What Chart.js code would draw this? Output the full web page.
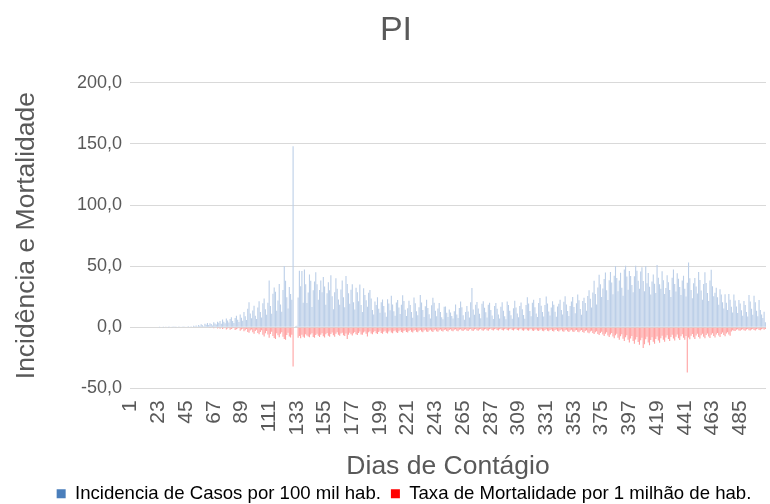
<!DOCTYPE html>
<html>
<head>
<meta charset="utf-8">
<script src="https://cdn.jsdelivr.net/npm/chart.js@4/dist/chart.umd.min.js"></script>
<style>
  html, body { margin: 0; padding: 0; background: #ffffff; }
  #wrap { width: 770px; height: 504px; }
</style>
</head>
<body>
<div id="wrap"><canvas id="c" width="770" height="504"></canvas></div>
<script>
// Incidência de casos por 100 mil hab. (days 1..505)
const incidencia = [
  0,0,0,0,0,0,0,0,0,0,
  0,0,0,0,0,0,0,0,0,0,
  0,0,0,0.1,0,0,0.1,0,0.2,0,
  0.1,0.2,0,0.1,0.3,0.2,0.1,0.4,0.2,0.3,
  0.5,0.3,0.2,0.6,0.4,0.3,0.8,0.5,0.9,0.4,
  1.2,0.8,1.5,0.6,1.8,1.1,2.4,1.6,0.9,2.8,
  2.1,3.5,1.8,3.2,2.6,1.4,4.1,3.0,2.2,4.6,
  3.8,5.2,2.9,6.4,4.5,3.3,7.1,5.6,4.0,6.8,
  8.2,5.1,3.6,7.5,9.4,6.2,4.4,10.5,7.8,5.3,
  12.6,9.1,6.0,15.2,20.4,11.3,7.4,13.8,17.6,9.5,
  6.8,16.2,21.3,12.4,8.1,19.6,23.5,14.8,10.2,20.1,
  38.2,17.5,11.0,27.4,32.6,29.1,13.6,22.0,35.4,18.7,
  12.8,30.5,50.2,38.1,24.6,15.3,33.0,27.2,22.5,148.0,
  0.5,0.8,1.2,24.3,46.2,33.5,46.0,20.1,47.3,35.2,
  19.8,28.4,43.1,38.0,16.5,30.2,37.5,45.0,35.1,22.6,
  30.4,38.2,28.7,41.2,33.4,18.4,27.9,36.8,30.2,42.5,
  25.3,14.8,28.6,40.1,31.5,22.7,18.5,31.0,38.2,24.5,
  16.3,42.0,35.4,27.8,19.2,30.6,35.1,20.5,14.6,32.4,
  28.6,21.3,35.0,18.2,12.5,32.0,26.4,22.1,16.8,28.2,
  30.4,23.6,14.2,10.5,21.0,18.3,24.5,15.2,11.8,20.5,
  22.8,17.4,12.1,8.6,23.0,19.5,14.0,25.8,18.6,13.2,
  9.5,20.2,22.4,16.1,10.8,18.5,26.2,21.4,14.3,9.2,
  15.6,21.8,18.2,12.5,7.8,24.3,19.6,13.1,9.8,16.4,
  26.5,20.3,14.2,8.5,17.2,22.6,15.8,10.6,7.2,18.0,
  24.1,20.0,13.5,9.1,15.4,19.8,12.6,8.2,6.5,16.7,
  17.1,11.8,8.4,14.5,12.0,9.3,7.1,13.2,18.6,10.4,
  7.5,15.8,21.0,16.3,9.8,6.2,12.4,17.5,13.0,8.1,
  20.5,32.1,14.6,10.2,18.4,20.6,15.3,11.0,7.4,19.2,
  21.3,16.0,12.2,8.0,18.5,20.1,14.1,9.6,6.8,17.4,
  19.8,15.2,10.5,7.2,16.8,20.4,13.6,9.1,6.5,21.0,
  18.2,13.5,9.8,7.0,15.6,21.8,16.2,11.3,8.2,17.5,
  20.3,14.8,10.1,6.9,18.2,24.6,19.5,13.4,9.0,20.1,
  22.5,16.3,11.2,8.4,19.8,24.0,17.6,12.5,8.8,18.2,
  25.1,19.4,13.0,9.6,16.2,21.3,18.5,12.8,8.7,17.1,
  19.2,22.6,14.1,10.5,20.8,25.3,18.7,13.4,9.2,17.5,
  21.0,24.8,16.5,11.4,19.6,26.8,22.1,15.0,10.2,21.5,
  24.2,19.8,13.5,25.6,30.3,23.4,16.2,28.5,38.1,27.2,
  18.6,32.5,43.0,35.2,24.8,31.8,39.4,44.8,30.2,22.4,
  38.5,45.2,36.6,27.1,42.1,50.1,40.3,29.5,38.2,44.6,
  32.4,25.8,47.2,50.3,41.5,30.8,46.1,42.0,34.5,28.6,
  41.8,50.4,46.2,38.0,31.5,45.6,49.2,37.8,29.4,50.2,
  36.1,44.5,33.2,26.8,37.4,43.2,35.6,28.1,51.0,40.5,
  35.3,31.6,45.8,38.4,27.3,32.2,42.5,36.9,30.4,24.8,
  40.6,47.3,35.5,29.2,44.1,39.6,33.0,26.5,38.2,42.1,
  31.5,25.2,36.4,53.0,40.2,30.5,23.8,36.1,40.3,33.4,
  27.6,45.2,38.7,30.1,22.5,35.4,45.0,36.2,28.0,21.6,
  38.2,47.1,33.5,25.3,28.2,32.4,24.6,18.5,31.1,26.8,
  20.4,15.3,27.0,20.1,14.2,27.2,22.5,16.8,12.1,26.8,
  22.0,17.1,11.6,22.3,19.5,14.0,9.5,21.6,18.2,12.4,
  8.8,26.5,21.0,15.2,10.3,25.8,20.4,13.5,9.1,22.4,
  14.2,10.5,7.6,12.8,4.1
];

// Taxa de mortalidade por 1 milhão de hab. (plotted as negative, days 1..505)
const mortalidade = [
  0,0,0,0,0,0,0,0,0,0,
  0,0,0,0,0,0,0,0,0,0,
  0,0,0,0,0,0,0,0,0,0,
  0,0,0,0,0,0,0,0,0,0,
  0,0,0,0,0,0,0,0,0,0,
  0,0,0,0,0,0,0,0,0,0,
  0,-0.3,0,-0.5,0,0,-0.8,-0.4,0,-1.0,
  -0.6,-1.2,0,-1.5,-0.8,-0.4,-1.8,-1.1,-0.5,-2.0,
  -1.4,-0.8,-0.5,-2.2,-1.6,-1.0,-0.6,-2.8,-1.9,-1.2,
  -3.2,-2.4,-1.5,-3.8,-4.5,-2.6,-1.8,-4.1,-5.2,-3.0,
  -2.0,-4.6,-5.8,-3.9,-2.5,-6.2,-7.5,-4.8,-3.1,-6.0,
  -8.5,-5.4,-3.6,-7.2,-8.8,-9.5,-4.9,-6.5,-8.1,-5.2,
  -4.0,-7.8,-9.6,-10.2,-6.4,-4.5,-7.6,-8.4,-6.1,-32.0,
  0,0,0,-8.6,-7.2,-9.0,-6.1,-7.8,-8.5,-5.6,
  -6.8,-7.5,-8.2,-5.9,-4.8,-7.9,-8.6,-6.4,-5.2,-7.0,
  -8.0,-6.2,-4.9,-7.4,-8.3,-5.8,-4.6,-6.9,-7.7,-5.5,
  -4.2,-6.6,-7.8,-5.3,-4.0,-6.2,-7.0,-5.1,-4.4,-6.5,
  -7.2,-5.0,-9.6,-6.1,-4.5,-5.8,-6.8,-4.9,-3.8,-5.6,
  -6.4,-4.6,-3.5,-5.9,-6.1,-4.3,-3.4,-5.2,-7.5,-4.1,
  -3.2,-5.0,-5.8,-4.0,-3.1,-4.8,-5.5,-3.8,-2.9,-4.6,
  -5.2,-3.6,-2.8,-4.4,-5.0,-3.5,-2.7,-4.3,-4.9,-3.3,
  -2.6,-4.1,-4.7,-3.2,-2.5,-3.9,-4.5,-3.1,-2.4,-3.8,
  -4.3,-3.0,-2.3,-3.7,-4.2,-2.9,-2.2,-3.6,-4.1,-2.8,
  -2.2,-3.5,-4.0,-2.7,-2.1,-3.4,-3.9,-2.6,-2.0,-3.3,
  -3.8,-2.5,-1.9,-3.2,-3.6,-2.4,-1.8,-3.1,-3.5,-2.3,
  -1.8,-3.0,-3.4,-2.2,-1.7,-2.9,-3.3,-2.1,-1.7,-2.8,
  -3.2,-2.0,-1.6,-2.7,-3.1,-2.0,-1.6,-2.6,-3.0,-1.9,
  -1.5,-2.6,-3.0,-1.9,-1.5,-2.5,-2.9,-1.8,-1.4,-2.4,
  -2.8,-1.8,-1.4,-2.4,-2.8,-1.7,-1.3,-2.3,-2.7,-1.7,
  -1.3,-2.3,-2.7,-1.7,-1.3,-2.2,-2.6,-1.6,-1.3,-2.2,
  -2.6,-1.6,-1.2,-2.2,-2.6,-1.6,-1.2,-2.3,-2.7,-1.7,
  -1.3,-2.4,-2.8,-1.8,-1.4,-2.5,-2.9,-1.9,-1.5,-2.6,
  -3.0,-2.0,-1.6,-2.7,-3.1,-2.1,-1.6,-2.8,-3.2,-2.2,
  -1.7,-2.9,-3.3,-2.2,-1.8,-3.0,-3.4,-2.3,-1.8,-3.1,
  -3.5,-2.4,-1.9,-3.2,-3.6,-2.5,-2.0,-3.3,-3.8,-2.6,
  -2.1,-3.4,-3.9,-2.7,-2.2,-3.6,-4.1,-2.9,-2.3,-3.8,
  -4.4,-3.1,-2.5,-4.2,-4.8,-3.4,-2.8,-4.7,-5.5,-4.0,
  -3.2,-5.4,-6.4,-4.6,-3.6,-6.0,-7.2,-5.2,-4.1,-6.8,
  -8.0,-5.9,-4.6,-7.6,-9.0,-6.6,-5.2,-8.5,-10.1,-7.4,
  -5.8,-9.4,-11.2,-8.2,-6.5,-10.3,-12.4,-9.1,-7.2,-11.3,
  -13.5,-10.0,-7.9,-12.0,-14.2,-10.6,-8.5,-17.0,-13.8,-9.8,
  -7.8,-12.4,-14.8,-10.4,-8.1,-11.8,-13.5,-9.6,-7.5,-10.9,
  -12.6,-9.0,-7.0,-10.2,-11.8,-8.4,-6.6,-9.6,-11.2,-8.0,
  -6.2,-9.2,-10.8,-7.7,-6.0,-8.9,-10.4,-7.4,-5.8,-8.6,
  -10.1,-7.2,-37.0,-8.4,-9.8,-7.0,-5.5,-8.2,-9.5,-6.8,
  -5.3,-8.0,-9.2,-6.6,-5.2,-7.8,-9.0,-6.4,-5.0,-7.5,
  -8.7,-6.2,-4.8,-7.2,-8.3,-5.9,-4.6,-6.8,-7.9,-5.5,
  -4.3,-6.4,-7.4,-5.1,-4.0,-6.0,-6.9,-3.5,-2.4,-2.8,
  -3.0,-2.1,-1.7,-2.6,-2.9,-2.0,-1.6,-2.5,-2.8,-1.9,
  -1.5,-2.4,-2.7,-1.8,-1.4,-2.3,-2.6,-1.7,-1.3,-2.2,
  -2.5,-1.6,-1.2,-2.1,-1.4
];

// Category labels: day numbers
const days = incidencia.map((_, i) => String(i + 1));

// Tick labels shown on the x axis
const tickLabels = ['1','23','45','67','89','111','133','155','177','199','221','243',
  '265','287','309','331','353','375','397','419','441','463','485'];

// Y-axis tick values
const yTicks = [-50, 0, 50, 100, 150, 200];

const seriesNames = ['Incidencia de Casos por 100 mil hab.', 'Taxa de Mortalidade por 1 milhão de hab.'];
const legendColors = ['#4a7ebb', '#ff0000'];

const FONT = '"Liberation Sans", Arial, sans-serif';
const TXT = '#595959';

const boxShift = {
  id: 'boxShift',
  beforeLayout(chart) {
    const l = chart.legend;
    if (l && !l._fitPatched) {
      const f = l.fit.bind(l);
      l.fit = function () { f(); this.height = Math.max(0, this.height - 9); };
      l._fitPatched = true;
    }
  },
  afterLayout(chart) {
    const l = chart.legend;
    if (l) { l.left += 21; l.right += 21; }
    const t = chart.titleBlock;
    if (t) { t.left += 13; t.right += 13; }
  }
};

new Chart(document.getElementById('c'), {
  type: 'bar',
  data: {
    labels: days,
    datasets: [
      { label: seriesNames[0], data: incidencia, backgroundColor: '#bccfe8', borderWidth: 0,
        barPercentage: 0.88, categoryPercentage: 1.0 },
      { label: seriesNames[1], data: mortalidade, backgroundColor: '#ffa3a3', borderWidth: 0,
        barPercentage: 0.88, categoryPercentage: 1.0 }
    ]
  },
  plugins: [boxShift],
  options: {
    responsive: false,
    animation: false,
    devicePixelRatio: 1,
    layout: { padding: { left: 0, right: 4, top: 0, bottom: 0 } },
    plugins: {
      title: {
        display: true, text: 'PI', color: TXT,
        font: { family: FONT, size: 34, weight: 'normal' },
        padding: { top: 10, bottom: 32 }
      },
      legend: {
        display: true, position: 'bottom',
        labels: {
          color: TXT, font: { family: FONT, size: 18.6 },
          boxWidth: 9, boxHeight: 9, padding: 10,
          generateLabels: () => seriesNames.map((n, i) => ({
            text: n, fillStyle: legendColors[i], strokeStyle: legendColors[i],
            lineWidth: 0, hidden: false, datasetIndex: i
          }))
        }
      },
      tooltip: { enabled: false }
    },
    scales: {
      x: {
        stacked: true,
        grid: { display: false },
        border: { display: false },
        ticks: {
          autoSkip: false, maxRotation: 90, minRotation: 90, padding: 4,
          color: TXT, font: { family: FONT, size: 21 },
          callback: function (v, i) { return tickLabels.includes(days[i]) ? days[i] : ''; }
        },
        title: {
          display: true, text: 'Dias de Contágio', color: TXT,
          font: { family: FONT, size: 26.5 }, padding: { top: 0, bottom: -8 }
        },
        afterFit(scale) { scale.height = 86; scale.paddingLeft = 0; scale.paddingRight = 0; }
      },
      y: {
        stacked: true,
        min: -50, max: 200,
        afterBuildTicks(scale) { scale.ticks = yTicks.map(v => ({ value: v })); },
        grid: { color: '#d9d9d9', lineWidth: 1, drawTicks: false },
        border: { display: false },
        ticks: {
          padding: 8, color: TXT, font: { family: FONT, size: 18 },
          callback: v => v.toFixed(1).replace('.', ',')
        },
        title: {
          display: true, text: 'Incidência e Mortalidade', color: TXT,
          font: { family: FONT, size: 26.5 }, padding: { top: 11, bottom: 0 }
        },
        afterFit(scale) { scale.width = 130; }
      }
    }
  }
});
</script>
</body>
</html>
